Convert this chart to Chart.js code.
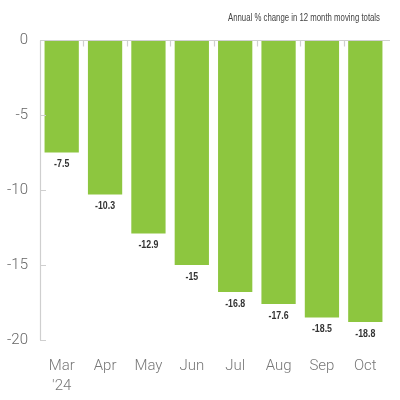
<!DOCTYPE html>
<html>
<head>
<meta charset="utf-8">
<script src="https://cdn.jsdelivr.net/npm/chart.js@4"></script>
<style>
  html, body { margin: 0; padding: 0; background: #fff; }
  #wrap { width: 400px; height: 400px; }
</style>
</head>
<body>
<div id="wrap"><canvas id="chart"></canvas></div>
<script>
const months = [["Mar", "'24"], "Apr", "May", "Jun", "Jul", "Aug", "Sep", "Oct"];
const changes = [-7.5, -10.3, -12.9, -15, -16.8, -17.6, -18.5, -18.8];
const yTicks = [0, -5, -10, -15, -20];
const note = "Annual % change in 12 month moving totals";

// axis lines, inside tick marks, value labels and the note
const decorations = {
    id: "decorations",
    afterDatasetsDraw: function(chart) {
        const ctx = chart.ctx;
        const area = chart.chartArea;
        const x = chart.scales.x;
        const y = chart.scales.y;
        ctx.save();
        ctx.strokeStyle = "#cfcfcf";
        ctx.lineWidth = 1.2;
        const zeroY = Math.round(y.getPixelForValue(0)) + 0.5;
        ctx.beginPath();
        ctx.moveTo(area.left, zeroY);
        ctx.lineTo(area.right + 3, zeroY);
        ctx.moveTo(area.left + 0.5, zeroY);
        ctx.lineTo(area.left + 0.5, y.getPixelForValue(-20));
        yTicks.forEach(v => {
            const py = Math.round(y.getPixelForValue(v)) + 0.5;
            ctx.moveTo(area.left, py);
            ctx.lineTo(area.left + 6, py);
        });
        for (let i = 1; i < months.length; i++) {
            const px = Math.round((x.getPixelForValue(i - 1) + x.getPixelForValue(i)) / 2) + 0.5;
            ctx.moveTo(px, zeroY);
            ctx.lineTo(px, zeroY + 6);
        }
        ctx.stroke();

        // narrow look: squeeze text with maxWidth
        ctx.fillStyle = "#333";
        ctx.font = "bold 11px 'Liberation Sans'";
        ctx.textAlign = "center";
        ctx.textBaseline = "top";
        const meta = chart.getDatasetMeta(0);
        meta.data.forEach((bar, i) => {
            const t = String(changes[i]);
            ctx.fillText(t, bar.x, bar.y + 6, ctx.measureText(t).width * 0.8);
        });

        ctx.fillStyle = "#444";
        ctx.font = "10px 'Liberation Sans'";
        ctx.textAlign = "right";
        ctx.textBaseline = "middle";
        ctx.fillText(note, 380, 18, 152);
        ctx.restore();
    }
};

new Chart(document.getElementById("chart"), {
    type: "bar",
    data: {
        labels: months,
        datasets: [{
            data: changes,
            backgroundColor: "#8dc63f",
            borderWidth: 0,
            barPercentage: 0.79,
            categoryPercentage: 1
        }]
    },
    options: {
        responsive: true,
        maintainAspectRatio: false,
        animation: false,
        layout: { padding: { top: 40, right: 13, left: 0, bottom: 0 } },
        plugins: {
            legend: { display: false },
            tooltip: { enabled: false }
        },
        scales: {
            x: {
                grid: { display: false },
                border: { display: false },
                ticks: {
                    color: "#777",
                    font: { family: "Roboto", weight: "300", size: 15, lineHeight: 1.35 },
                    padding: 8,
                    maxRotation: 0
                },
                afterFit: function(scale) { scale.height = 60; }
            },
            y: {
                min: -20,
                max: 0,
                grid: { display: false },
                border: { display: false },
                afterBuildTicks: function(scale) {
                    scale.ticks = yTicks.map(v => ({ value: v }));
                },
                ticks: {
                    color: "#666",
                    font: { family: "Roboto", weight: "300", size: 15 },
                    padding: 4
                },
                afterFit: function(scale) { scale.width = 40; }
            }
        }
    },
    plugins: [decorations]
});
</script>
</body>
</html>
